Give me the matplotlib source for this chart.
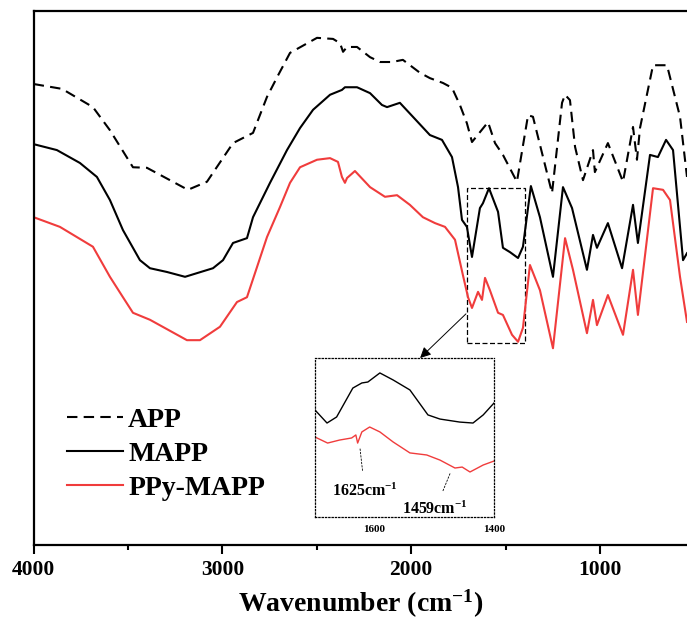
import numpy as np
import matplotlib.pyplot as plt
from matplotlib.patches import Rectangle

plt.rcParams['font.family'] = ['Liberation Serif', 'DejaVu Serif']
plt.rcParams['font.weight'] = 'bold'
plt.rcParams['mathtext.fontset'] = 'custom'
plt.rcParams['mathtext.rm'] = 'Liberation Serif:bold'
plt.rcParams['mathtext.default'] = 'rm'

# FTIR spectra (transmittance, arbitrary units)
app_wn = [4000, 3850, 3686, 3596, 3474, 3400, 3183, 3082, 2944, 2838, 2764, 2704, 2642, 2499,
          2414, 2377, 2361, 2340, 2287, 2218, 2165, 2102, 2044, 1954, 1901, 1832, 1784, 1742,
          1705, 1678, 1593, 1556, 1514, 1440, 1381, 1355, 1254, 1201, 1185, 1159, 1132, 1090,
          1037, 1027, 958, 878, 825, 804, 788, 719, 645, 576, 539]
app_t = [86.4, 85.5, 82.1, 77.8, 70.9, 70.8, 66.7, 68.2, 75.4, 77.3, 84.0, 88.1, 92.2, 95.0,
         94.8, 94.0, 92.4, 93.3, 93.3, 91.4, 90.5, 90.5, 90.9, 88.5, 87.5, 86.6, 85.7, 82.5,
         79.1, 75.6, 79.3, 75.4, 73.2, 68.2, 80.6, 80.3, 66.1, 82.9, 84.4, 83.4, 74.7, 68.5,
         74.1, 70.0, 75.4, 68.2, 78.4, 72.3, 78.2, 89.9, 89.9, 80.3, 69.1]

mapp_wn = [4000, 3877, 3755, 3665, 3596, 3527, 3437, 3384, 3294, 3198, 3050, 2997, 2944, 2870,
           2838, 2748, 2658, 2589, 2520, 2430, 2367, 2351, 2287, 2218, 2155, 2128, 2060, 1991,
           1901, 1837, 1784, 1752, 1731, 1705, 1678, 1636, 1620, 1588, 1540, 1514, 1477, 1434,
           1408, 1366, 1318, 1249, 1196, 1148, 1069, 1037, 1016, 958, 883, 825, 799, 735, 693,
           650, 613, 560, 539]
mapp_t = [75.2, 74.1, 71.7, 69.1, 64.8, 59.2, 53.6, 52.1, 51.4, 50.5, 52.1, 53.6, 56.8, 57.7,
          61.6, 68.0, 74.1, 78.2, 81.6, 84.4, 85.3, 85.8, 85.8, 84.7, 82.5, 82.1, 82.9, 80.3,
          76.9, 76.0, 72.8, 67.2, 61.1, 59.8, 54.2, 63.3, 64.2, 67.0, 62.6, 55.9, 55.1, 54.0,
          56.1, 67.4, 61.6, 50.5, 67.2, 63.3, 51.8, 58.3, 55.9, 60.5, 52.1, 63.9, 56.8, 73.2,
          72.8, 76.0, 74.1, 53.6, 54.9]

ppy_wn = [4000, 3861, 3686, 3596, 3527, 3474, 3384, 3188, 3119, 3013, 2923, 2870, 2764, 2695,
          2642, 2589, 2499, 2430, 2388, 2367, 2351, 2340, 2298, 2218, 2139, 2075, 2007, 1938,
          1874, 1821, 1768, 1726, 1699, 1678, 1646, 1625, 1609, 1583, 1540, 1514, 1466, 1434,
          1408, 1371, 1318, 1249, 1185, 1143, 1069, 1037, 1016, 958, 878, 825, 799, 719, 666,
          629, 576, 539]
ppy_t = [61.6, 59.8, 56.1, 50.5, 46.7, 43.8, 42.5, 38.7, 38.7, 41.2, 45.8, 46.7, 57.9, 63.5,
         68.0, 70.9, 72.3, 72.6, 71.9, 69.1, 68.0, 68.9, 70.2, 67.2, 65.4, 65.7, 63.9, 61.6,
         60.5, 59.8, 57.4, 50.8, 46.7, 44.7, 47.7, 46.2, 50.3, 48.0, 43.8, 43.4, 39.7, 38.4,
         41.0, 52.7, 48.0, 37.2, 57.7, 51.8, 40.0, 46.2, 41.5, 47.1, 39.7, 51.8, 43.4, 67.0,
         66.7, 64.8, 50.5, 42.1]

# enlarged 1700-1400 cm-1 region (inset, arbitrary units)
ins_mapp_wn = [1698, 1678, 1662, 1635, 1620, 1610, 1590, 1568, 1540, 1510, 1490, 1457, 1435, 1418, 1400]
ins_mapp_t = [67.3, 59.1, 62.9, 81.1, 84.3, 84.9, 90.6, 86.2, 79.9, 64.2, 61.6, 59.7, 59.1, 64.2, 71.7]
ins_ppy_wn = [1698, 1677, 1657, 1637, 1630, 1627, 1620, 1607, 1590, 1568, 1540, 1512, 1490,
              1465, 1453, 1440, 1418, 1400]
ins_ppy_t = [50.3, 46.5, 48.4, 49.7, 51.6, 46.5, 53.5, 56.6, 53.5, 47.2, 40.3, 39.0, 35.8,
             30.8, 31.4, 28.3, 32.7, 35.2]

box_wn = (1705, 1398)
box_t = (38.2, 67.0)
red = '#f03c3c'

fig = plt.figure(figsize=(6.87, 6.21), dpi=100)
ax = fig.add_axes([0.049, 0.1224, 0.951, 0.8599])

ax.plot(app_wn, app_t, color='black', lw=1.5, ls=(0, (5, 3)), label='APP')
ax.plot(mapp_wn, mapp_t, color='black', lw=1.5, label='MAPP')
ax.plot(ppy_wn, ppy_t, color=red, lw=1.5, label='PPy-MAPP')

ax.set_xlim(4000, 539)
ax.set_ylim(0.56, 100)
ax.set_xticks([4000, 3000, 2000, 1000])
ax.set_xticks([3500, 2500, 1500], minor=True)
ax.set_yticks([])
ax.tick_params(axis='x', which='major', direction='out', length=6.5, width=1.5,
               labelsize=15.5, pad=4)
ax.tick_params(axis='x', which='minor', direction='out', length=3.6, width=1.5)
ax.spines['right'].set_visible(False)
for s in ['left', 'top', 'bottom']:
    ax.spines[s].set_linewidth(1.6)
ax.set_xlabel('Wavenumber (cm$^{-1}$)', fontsize=20, fontweight='bold', labelpad=6)

ax.add_patch(Rectangle((box_wn[0], box_t[0]), box_wn[1] - box_wn[0], box_t[1] - box_t[0],
                       fill=False, ls=(0, (4, 2)), lw=0.9, color='black'))

ax.legend(loc='center left', bbox_to_anchor=(0.051, 0.17), frameon=False,
          fontsize=20, handlelength=2.0, handletextpad=0.2, labelspacing=0.3,
          borderpad=0, borderaxespad=0)

# inset
ins = fig.add_axes([0.4585, 0.1675, 0.2606, 0.256])
ins.plot(ins_mapp_wn, ins_mapp_t, color='black', lw=1)
ins.plot(ins_ppy_wn, ins_ppy_t, color=red, lw=1)
ins.set_xlim(1698, 1400)
ins.set_ylim(0, 100)
ins.set_xticks([1600, 1400])
ins.set_yticks([])
ins.tick_params(axis='x', length=0, labelsize=8, pad=6)
for s in ins.spines.values():
    s.set_linestyle(':')
    s.set_linewidth(0.9)

ins.annotate('1625cm$^{-1}$', xy=(1623, 43.0), xytext=(1615, 16), fontsize=11.5,
             ha='center', va='center',
             arrowprops=dict(arrowstyle='-', ls=(0, (2, 2)), lw=0.6, color='black',
                             shrinkA=7, shrinkB=0))
ins.annotate('1459cm$^{-1}$', xy=(1473, 27.5), xytext=(1498, 4.5), fontsize=11.5,
             ha='center', va='center',
             arrowprops=dict(arrowstyle='-', ls=(0, (2, 2)), lw=0.6, color='black',
                             shrinkA=6, shrinkB=0))

ax.annotate('', xy=(0.587, 1.0), xycoords=ins.transAxes,
            xytext=(1710, 43.6), textcoords='data',
            arrowprops=dict(arrowstyle='-|>', lw=0.7, color='black', mutation_scale=16,
                            shrinkA=0, shrinkB=0))

fig.savefig('out.png', dpi=100)
